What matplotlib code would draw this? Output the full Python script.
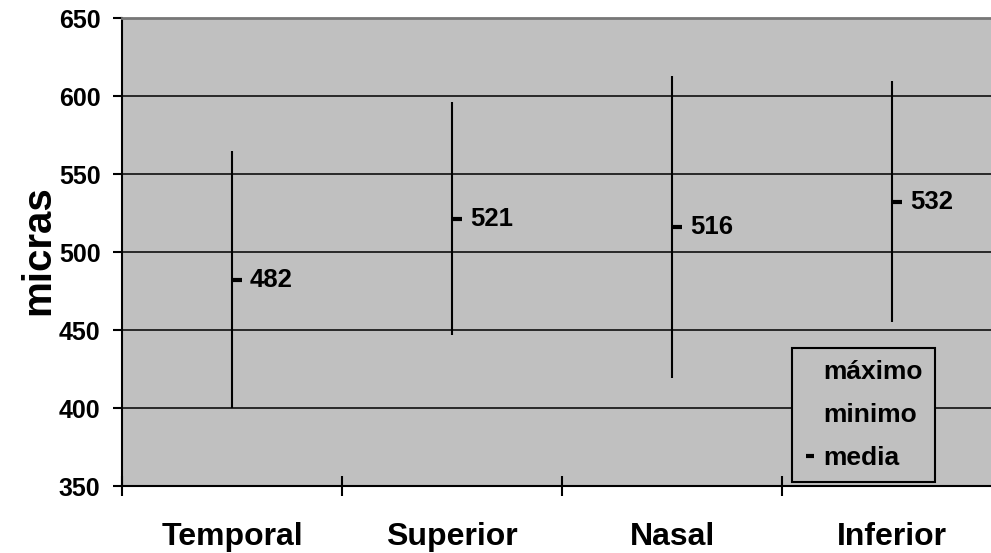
import matplotlib
matplotlib.use("Agg")
import matplotlib.pyplot as plt
from matplotlib.lines import Line2D

CATEGORIES = ["Temporal", "Superior", "Nasal", "Inferior"]
MAXIMO = [565, 596, 613, 610]
MINIMO = [400, 447, 419, 455]
MEDIA = [482, 521, 516, 532]
Y_TICKS = [350, 400, 450, 500, 550, 600, 650]

FONT = "Liberation Sans"
GRAY = "#c0c0c0"


def main():
    plt.rcParams["font.family"] = [FONT, "DejaVu Sans"]
    plt.rcParams["font.weight"] = "bold"

    fig = plt.figure(figsize=(9.91, 5.53), dpi=100)
    W, H = 991, 553
    # plot area runs past the right edge, like the original
    ax = fig.add_axes([122 / W, (H - 486) / H, 880 / W, 467.7 / H])
    ax.set_facecolor(GRAY)

    x = list(range(len(CATEGORIES)))
    ax.set_xlim(-0.5, len(CATEGORIES) - 0.5)
    ax.set_ylim(350, 650)

    # gridlines
    for v in Y_TICKS[1:-1]:
        ax.axhline(v, color="black", lw=1.1, zorder=1)

    # high-low lines and mean ticks
    ax.vlines(x, MINIMO, MAXIMO, color="black", lw=1.5, zorder=3)
    ax.plot(x, MEDIA, ls="none", marker=1, ms=7, mew=3, color="black", zorder=4)
    for xi, m in zip(x, MEDIA):
        ax.annotate(str(m), (xi, m), xytext=(13, 0), textcoords="offset points",
                    ha="left", va="center", fontsize=18.5, fontweight="bold")

    # axes styling
    for s in ["left", "bottom"]:
        ax.spines[s].set_color("black")
        ax.spines[s].set_linewidth(1.5)
    ax.spines["top"].set_color("#777777")
    ax.spines["top"].set_linewidth(2)
    ax.spines["right"].set_visible(False)

    ax.set_yticks(Y_TICKS)
    ax.tick_params(axis="y", direction="out", length=6.5, width=1.5, pad=9,
                   labelsize=18)
    ax.set_xticks([i - 0.5 for i in x])
    ax.set_xticklabels([])
    ax.set_xticks(x, minor=True)
    ax.set_xticklabels(CATEGORIES, minor=True, fontsize=23, fontweight="bold")
    ax.tick_params(axis="x", which="major", direction="inout", length=14.4,
                   width=1.5)
    ax.tick_params(axis="x", which="minor", length=0, pad=26)

    fig.text(38 / W, 1 - 250 / H, "micras", rotation=90, ha="center",
             va="center", fontsize=29, fontweight="bold")

    handles = [
        Line2D([], [], ls="none"),
        Line2D([], [], ls="none"),
        Line2D([], [], ls="none", marker="_", ms=6, mew=3, color="black"),
    ]
    leg = ax.legend(handles, ["máximo", "minimo", "media"],
                    loc="upper left",
                    bbox_to_anchor=(792 / W, 1 - 348 / H),
                    bbox_transform=fig.transFigure,
                    frameon=True, fancybox=False, facecolor=GRAY,
                    edgecolor="black", framealpha=1, fontsize=19,
                    handlelength=0.5, handletextpad=0.25, labelspacing=0.72,
                    borderpad=0.45, borderaxespad=0)
    leg.get_frame().set_linewidth(1.5)
    for t in leg.get_texts():
        t.set_fontweight("bold")

    fig.savefig("out.png", dpi=100, facecolor="white")


if __name__ == "__main__":
    main()
